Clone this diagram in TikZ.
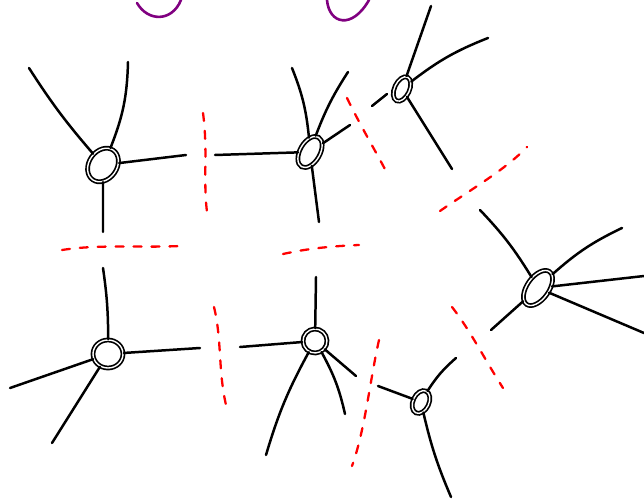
\documentclass[tikz,border=0pt]{standalone}
\usetikzlibrary{shapes.geometric}
\definecolor{arcpurple}{RGB}{128,0,128}
\tikzset{
  atom/.style={draw, ellipse, line width=1.7pt, inner sep=0pt, double, double distance=1.4pt},
  bond/.style={line width=2.5pt, line cap=round},
  cut/.style={red, line width=2.3pt, dash pattern=on 8pt off 10pt, line cap=round},
  arcline/.style={arcpurple, line width=2.6pt, line cap=round}
}
\begin{document}
\begin{tikzpicture}[x=1bp, y=-1bp]
    \useasboundingbox (0,0) rectangle (644,503);
    % atoms
    \node[atom, minimum width=36bp, minimum height=28bp, rotate=55] (A) at (103,165) {};
    \node[atom, minimum width=34bp, minimum height=20bp, rotate=60] (B) at (310,152) {};
    \node[atom, minimum width=26bp, minimum height=15bp, rotate=65] (C) at (402,89) {};
    \node[atom, minimum width=40bp, minimum height=22bp, rotate=55] (D) at (538,288) {};
    \node[atom, minimum width=30bp, minimum height=28bp] (E) at (108,354) {};
    \node[atom, minimum width=24bp, minimum height=24bp, rotate=70] (F) at (315,341) {};
    \node[atom, minimum width=24bp, minimum height=16bp, rotate=65] (G) at (421,402) {};
    % free ends
    \coordinate (a1) at (29,68);   \coordinate (a2) at (128,62);
    \coordinate (a3) at (186,155); \coordinate (a4) at (103,232);
    \coordinate (b1) at (292,68);  \coordinate (b2) at (348,72);
    \coordinate (b3) at (215,155); \coordinate (b4) at (350,125);
    \coordinate (b5) at (319,222);
    \coordinate (c0) at (372,106); \coordinate (c1) at (387,94);
    \coordinate (c2) at (431,6);   \coordinate (c3) at (488,38);
    \coordinate (c4) at (452,169);
    \coordinate (d1) at (480,210); \coordinate (d2) at (622,228);
    \coordinate (d3) at (644,276); \coordinate (d4) at (644,333);
    \coordinate (d5) at (491,330);
    \coordinate (e1) at (103,268); \coordinate (e2) at (10,388);
    \coordinate (e3) at (52,443);  \coordinate (e4) at (200,348);
    \coordinate (f1) at (316,277); \coordinate (f2) at (240,347);
    \coordinate (f3) at (356,376); \coordinate (f4) at (345,414);
    \coordinate (f5) at (266,455);
    \coordinate (g1) at (456,358); \coordinate (g2) at (378,386);
    \coordinate (g3) at (451,497);
    % bonds
    \draw[bond] (A) to[bend left=4] (a1);
    \draw[bond] (A) to[bend right=10] (a2);
    \draw[bond] (A) -- (a3);
    \draw[bond] (A) -- (a4);
    \draw[bond] (B) to[bend right=8] (b1);
    \draw[bond] (B) to[bend left=6] (b2);
    \draw[bond] (B) -- (b3);
    \draw[bond] (B) -- (b4);
    \draw[bond] (B) -- (b5);
    \draw[bond] (c0) -- (c1);
    \draw[bond] (C) -- (c2);
    \draw[bond] (C) to[bend left=8] (c3);
    \draw[bond] (C) -- (c4);
    \draw[bond] (D) to[bend right=6] (d1);
    \draw[bond] (D) to[bend left=8] (d2);
    \draw[bond] (D) -- (d3);
    \draw[bond] (D) -- (d4);
    \draw[bond] (D) -- (d5);
    \draw[bond] (E) to[bend right=4] (e1);
    \draw[bond] (E) -- (e2);
    \draw[bond] (E) -- (e3);
    \draw[bond] (E) -- (e4);
    \draw[bond] (F) -- (f1);
    \draw[bond] (F) -- (f2);
    \draw[bond] (F) -- (f3);
    \draw[bond] (F) to[bend left=8] (f4);
    \draw[bond] (F) to[bend right=6] (f5);
    \draw[bond] (G) to[bend left=8] (g1);
    \draw[bond] (G) -- (g2);
    \draw[bond] (G) to[bend right=5] (g3);
    % cuts
    \draw[cut] (203,113) .. controls (208,150) and (203,180) .. (207,212);
    \draw[cut] (62,250) .. controls (100,244) and (140,248) .. (180,246);
    \draw[cut] (283,254) .. controls (310,248) and (335,246) .. (359,245);
    \draw[cut] (347,98) .. controls (360,125) and (375,150) .. (387,173);
    \draw[cut] (440,211) .. controls (470,190) and (505,170) .. (527,147);
    \draw[cut] (214,307) .. controls (222,340) and (218,370) .. (226,405);
    \draw[cut] (379,340) .. controls (370,380) and (365,430) .. (352,466);
    \draw[cut] (452,307) .. controls (470,330) and (485,360) .. (503,388);
    % loops at the top
    \draw[arcline] (137,3) .. controls (148,22) and (172,22) .. (181,0);
    \draw[arcline] (327,0) .. controls (329,24) and (352,30) .. (369,0);
\end{tikzpicture}
\end{document}
